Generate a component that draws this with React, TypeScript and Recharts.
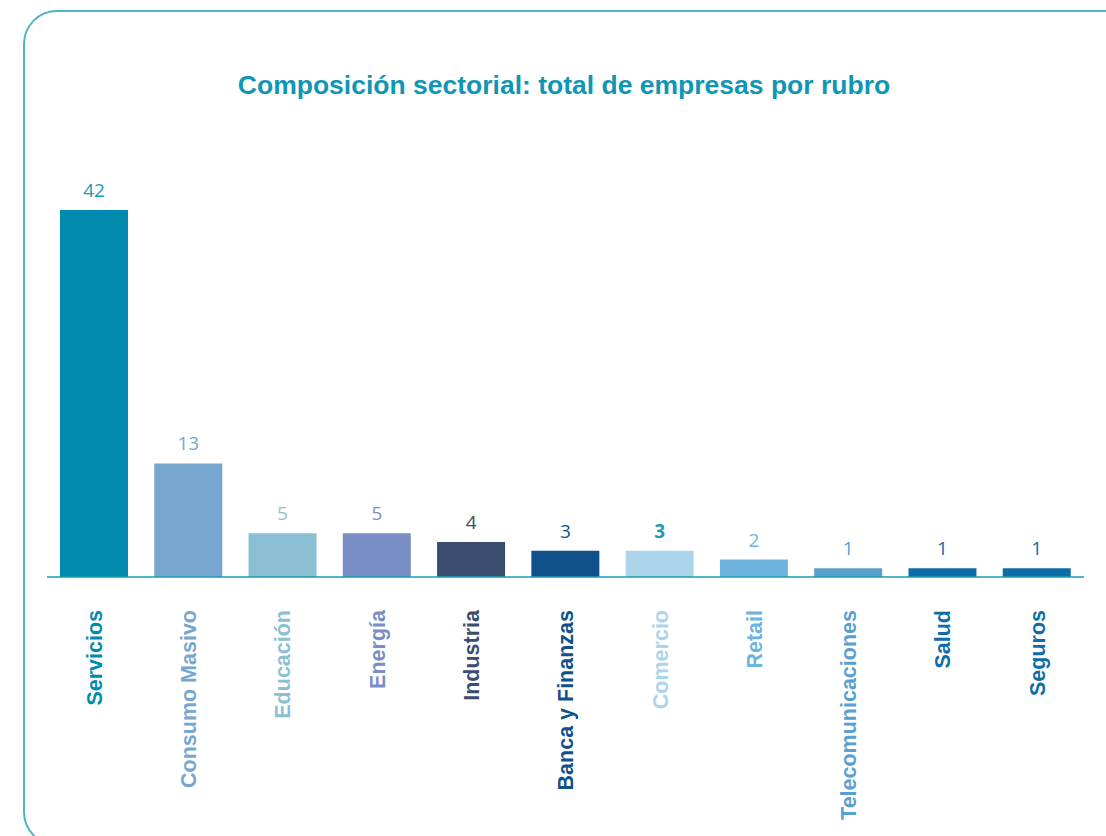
import { BarChart, Bar, XAxis, YAxis, Cell, LabelList } from 'recharts'

const sectors = [
  'Servicios',
  'Consumo Masivo',
  'Educación',
  'Energía',
  'Industria',
  'Banca y Finanzas',
  'Comercio',
  'Retail',
  'Telecomunicaciones',
  'Salud',
  'Seguros',
]
const companies = [42, 13, 5, 5, 4, 3, 3, 2, 1, 1, 1]
const barColors = [
  '#008bae', '#77a7cf', '#8bbfd3', '#798ec5', '#3a4d6e', '#11518b',
  '#acd5eb', '#6cb4de', '#5aa0cf', '#0e6ca8', '#0e6ca8',
]
const valueColors = [
  '#1a9bb5', '#77a7cf', '#8bbfd3', '#798ec5', '#3a4d6e', '#11518b',
  '#1a9bb5', '#6cb4de', '#5aa0cf', '#0e6ca8', '#0e6ca8',
]

const chartData = sectors.map((sector, i) => ({ sector, total: companies[i] }))

const SectorTick = (props: any) => {
  const { x, y, index } = props
  return (
    <text
      x={x}
      y={y}
      transform={`rotate(-90, ${x}, ${y})`}
      textAnchor="end"
      dy="0.36em"
      fill={barColors[index]}
      fontFamily="'Liberation Sans', Arial, sans-serif"
      fontWeight="bold"
      fontSize={21.5}
    >
      {sectors[index]}
    </text>
  )
}

const ValueLabel = (props: any) => {
  const { x, y, width, index, value } = props
  return (
    <text
      x={x + width / 2}
      y={y - 13}
      textAnchor="middle"
      fill={valueColors[index]}
      fontFamily="'Open Sans', sans-serif"
      fontWeight={index === 6 ? 700 : 400}
      fontSize={19}
    >
      {value}
    </text>
  )
}

export default function App() {
  return (
    <div style={{ position: 'absolute', left: 0, top: 0, width: 1106, height: 836, overflow: 'hidden', background: '#fff' }}>
      <div
        style={{
          position: 'absolute',
          left: 23,
          top: 10,
          width: 1120,
          height: 836,
          border: '2px solid #4fb3c9',
          borderRadius: 34,
          boxSizing: 'border-box',
        }}
      />
      <div
        style={{
          position: 'absolute',
          left: 0,
          top: 70,
          width: 1128,
          textAlign: 'center',
          fontFamily: "'Liberation Sans', Arial, sans-serif",
          fontWeight: 'bold',
          fontSize: 26.5,
          color: '#0f96b4',
        }}
      >
        Composición sectorial: total de empresas por rubro
      </div>
      <div style={{ position: 'absolute', left: 0, top: 0 }}>
        <BarChart
          width={1106}
          height={836}
          data={chartData}
          margin={{ top: 210, right: 22, bottom: 229, left: 47 }}
        >
          <XAxis
            dataKey="sector"
            interval={0}
            height={30}
            tickLine={false}
            axisLine={{ stroke: '#1a9bb5', strokeWidth: 1.5 }}
            tick={<SectorTick />}
            tickMargin={0}
            tickSize={33}
          />
          <YAxis hide domain={[0, 42]} />
          <Bar dataKey="total" barSize={68} isAnimationActive={false}>
            {chartData.map((_, i) => (
              <Cell key={i} fill={barColors[i]} />
            ))}
            <LabelList dataKey="total" content={<ValueLabel />} />
          </Bar>
        </BarChart>
      </div>
    </div>
  )
}
